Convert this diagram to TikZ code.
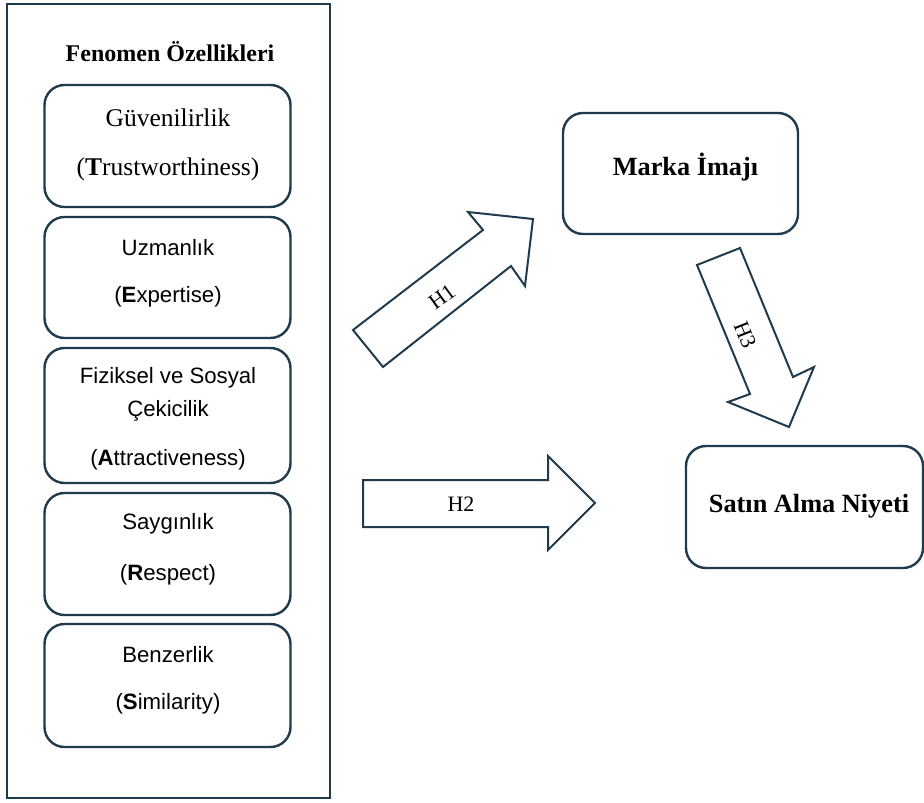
\documentclass[tikz,border=0pt]{standalone}
\usepackage{fontspec}
\setmainfont{Liberation Serif}
\newfontfamily\sansf{Liberation Sans}
\definecolor{ln}{HTML}{1F3B4D}
\begin{document}
\begin{tikzpicture}[x=1pt,y=-1pt,
  outer/.style={draw=ln,line width=2.4pt},
  inbox/.style={draw=ln,line width=2.4pt,rounded corners=20pt,minimum width=246pt,inner sep=0pt},
  rbox/.style={draw=ln,line width=2.4pt,rounded corners=20pt,inner sep=0pt},
  blk/.style={draw=ln,line width=2pt,line join=miter,fill=white},
  sanst/.style={font=\sansf\fontsize{22.2}{24}\selectfont,inner sep=0pt},
  sert/.style={font=\fontsize{25.5}{28}\selectfont,inner sep=0pt},
  bsert/.style={font=\bfseries\fontsize{24}{28}\selectfont,inner sep=0pt},
  bbsert/.style={font=\bfseries\fontsize{26.3}{28}\selectfont,inner sep=0pt},
  hlab/.style={inner sep=0pt,font=\fontsize{22}{24}\selectfont}]
\useasboundingbox (0,0) rectangle (924,803);
% outer frame
\node[outer,minimum width=323pt,minimum height=794pt,inner sep=0pt] (frame) at (168.5,401) {};
\node[bsert] (title) at (170,52) {Fenomen Özellikleri};
% inner boxes
\node[inbox,minimum height=122pt] (b1) at (167.5,146) {};
\node[inbox,minimum height=121pt] (b2) at (167.5,277.5) {};
\node[inbox,minimum height=135pt] (b3) at (167.5,415.5) {};
\node[inbox,minimum height=122pt] (b4) at (167.5,554) {};
\node[inbox,minimum height=123pt] (b5) at (167.5,685.5) {};
% texts
\node[sert] (t1a) at (168,118) {Güvenilirlik};
\node[sert] (t1b) at (168,169) {(\textbf{T}rustworthiness)};
\node[sanst] (t2a) at (168,248) {Uzmanlık};
\node[sanst] (t2b) at (168,297) {(\textbf{E}xpertise)};
\node[sanst] (t3a) at (168,378) {Fiziksel ve Sosyal};
\node[sanst] (t3b) at (168,411) {Çekicilik};
\node[sanst] (t3c) at (168,460) {(\textbf{A}ttractiveness)};
\node[sanst] (t4a) at (168,524) {Saygınlık};
\node[sanst] (t4b) at (168,575) {(\textbf{R}espect)};
\node[sanst] (t5a) at (168,655) {Benzerlik};
\node[sanst] (t5b) at (168,704) {(\textbf{S}imilarity)};
% right boxes
\node[rbox,minimum width=235pt,minimum height=121pt] (marka) at (680.5,173.5) {};
\node[bbsert] (markat) at (685.5,167) {Marka İmajı};
\node[rbox,minimum width=237pt,minimum height=122pt] (satin) at (804.5,507) {};
\node[bbsert] (satint) at (809,506) {Satın Alma Niyeti};
% H1 arrow
\draw[blk] (383,367) -- (511,266) -- (525,286) -- (533,219) -- (468,212) -- (483,230) -- (353,330) -- cycle;
\node[hlab,rotate=36] (h1) at (442,297) {H1};
% H2 arrow
\draw[blk] (363,480) -- (548,480) -- (548,456) -- (595,503) -- (548,550) -- (548,527) -- (363,527) -- cycle;
\node[hlab] (h2) at (461,504) {H2};
% H3 arrow
\draw[blk] (740,248) -- (793,377) -- (814,367) -- (789,427) -- (728,402) -- (750,394) -- (697,265) -- cycle;
\node[hlab,rotate=-68] (h3) at (745,335) {H3};
\end{tikzpicture}
\end{document}
